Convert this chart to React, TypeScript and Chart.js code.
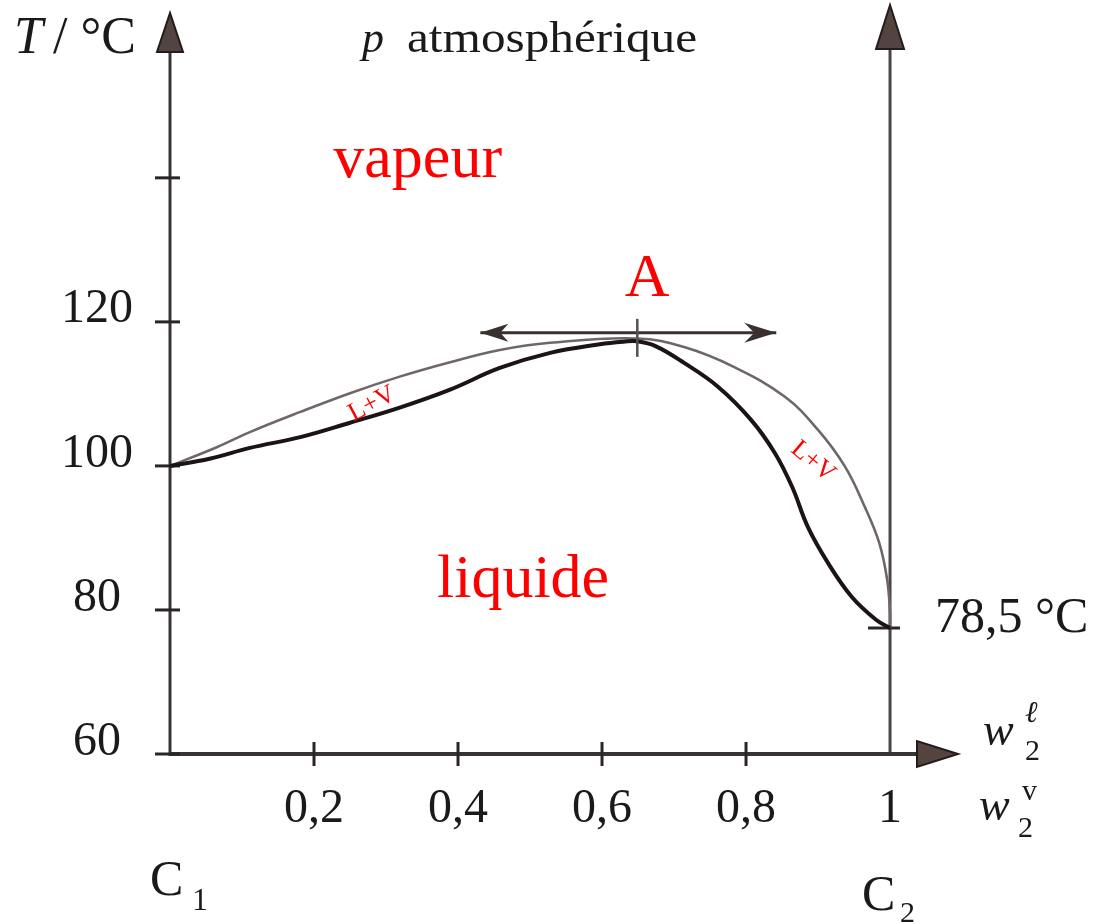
import React, { useEffect, useRef } from 'react';
import { Chart, registerables } from 'chart.js';

Chart.register(...registerables);

// ---------- data ----------
const xTicks = [0.2, 0.4, 0.6, 0.8, 1];
const xTickLabels = ['0,2', '0,4', '0,6', '0,8', '1'];
const yTicks = [60, 80, 100, 120, 140];
const yTickLabels = ['60', '80', '100', '120', ''];

// liquid (bubble) curve: mass fraction w2 (liquid) vs T (°C)
const liquidW = [0, 0.055, 0.111, 0.181, 0.25, 0.319, 0.389, 0.458, 0.528, 0.597, 0.63, 0.649, 0.675, 0.714, 0.761, 0.807, 0.84, 0.864, 0.886, 0.914, 0.947, 0.981, 1.0];
const liquidT = [100, 101.0, 102.5, 104.0, 106.0, 108.1, 110.6, 113.6, 115.7, 116.9, 117.25, 117.3, 116.6, 114.3, 111.0, 106.4, 101.8, 97.1, 91.5, 86.5, 81.8, 78.6, 77.5];

// vapour (dew) curve: mass fraction w2 (vapour) vs T (°C)
const vaporW = [0, 0.065, 0.111, 0.181, 0.25, 0.319, 0.389, 0.458, 0.528, 0.649, 0.714, 0.783, 0.854, 0.9, 0.9375, 0.965, 0.985, 0.996, 1.0, 1.0];
const vaporT = [100, 102.6, 104.7, 107.5, 110.1, 112.4, 114.4, 116.1, 117.1, 117.7, 116.5, 113.75, 109.6, 105.0, 99.9, 94.3, 89.3, 84.2, 79.6, 77.5];

// azeotrope A and tangent double arrow
const azeoW = 0.649;
const azeoT = 117.5;
const tangentW = [0.431, 0.842];
const tangentT = [118.5, 118.5];

// boiling point of pure C2 (drawn level) and label
const c2BoilT = 77.5;
const c2BoilLabel = '78,5 °C';

const X_MAX = 1.0944;
const Y_MIN = 60;
const Y_MAX = 164;

const SERIF = "'Liberation Serif', 'Times New Roman', serif";
const INK = '#1a1a1a';
const RED = '#ff0000';

function txt(ctx: CanvasRenderingContext2D, s: string, x: number, y: number, font: string, color: string, align: CanvasTextAlign = 'left', sx = 1, rot = 0, baseline: CanvasTextBaseline = 'alphabetic') {
  ctx.save();
  ctx.translate(x, y);
  if (rot) ctx.rotate(rot);
  ctx.scale(sx, 1);
  ctx.font = font;
  ctx.fillStyle = color;
  ctx.textAlign = align;
  ctx.textBaseline = baseline;
  ctx.fillText(s, 0, 0);
  ctx.restore();
}

function line(ctx: CanvasRenderingContext2D, x1: number, y1: number, x2: number, y2: number, color: string, w: number) {
  ctx.save();
  ctx.strokeStyle = color;
  ctx.lineWidth = w;
  ctx.beginPath();
  ctx.moveTo(x1, y1);
  ctx.lineTo(x2, y2);
  ctx.stroke();
  ctx.restore();
}

function tri(ctx: CanvasRenderingContext2D, pts: number[][]) {
  ctx.save();
  ctx.fillStyle = '#54443f';
  ctx.strokeStyle = '#231c1a';
  ctx.lineWidth = 2;
  ctx.lineJoin = 'miter';
  ctx.beginPath();
  ctx.moveTo(pts[0][0], pts[0][1]);
  for (let i = 1; i < pts.length; i++) ctx.lineTo(pts[i][0], pts[i][1]);
  ctx.closePath();
  ctx.fill();
  ctx.stroke();
  ctx.restore();
}

const axesPlugin = {
  id: 'axesPlugin',
  beforeDatasetsDraw(chart: any) {
    const ctx: CanvasRenderingContext2D = chart.ctx;
    const xs = chart.scales.x;
    const ys = chart.scales.y;
    const top = chart.chartArea.top;
    const right = chart.chartArea.right;
    const x0 = xs.getPixelForValue(0);
    const x1 = xs.getPixelForValue(1);
    const yb = ys.getPixelForValue(Y_MIN);

    // left (temperature) axis
    line(ctx, x0, yb + 2, x0, top + 44, '#383434', 3);
    tri(ctx, [[x0, top + 8], [x0 - 13, top + 47], [x0 + 13, top + 47]]);
    // right axis at w2 = 1
    line(ctx, x1, yb + 2, x1, top + 40, '#4a4646', 3);
    tri(ctx, [[x1, top], [x1 - 14, top + 44], [x1 + 14, top + 44]]);
    // horizontal axis
    line(ctx, x0 - 1, yb, right - 40, yb, '#383434', 4);
    tri(ctx, [[right, yb], [right - 41, yb - 13], [right - 41, yb + 13]]);

    // y ticks
    yTicks.forEach((v) => {
      const py = ys.getPixelForValue(v);
      line(ctx, x0 - 15, py, x0 + 10, py, '#2a2626', 3);
    });
    // x ticks
    xTicks.forEach((v) => {
      if (v >= 1) return;
      const px = xs.getPixelForValue(v);
      line(ctx, px, yb - 12, px, yb + 12, '#2a2626', 3);
    });
    // tick on right axis at boiling point of C2
    const pb = ys.getPixelForValue(c2BoilT);
    line(ctx, x1 - 22, pb, x1 + 10, pb, '#2a2626', 3);
  },
  afterDatasetsDraw(chart: any) {
    const ctx: CanvasRenderingContext2D = chart.ctx;
    const xs = chart.scales.x;
    const ys = chart.scales.y;

    // tick marking A
    const ax = xs.getPixelForValue(azeoW);
    const ay = ys.getPixelForValue(azeoT);
    line(ctx, ax, ay - 21, ax, ay + 17, '#555050', 2.5);

    // arrowheads of tangent
    const lx = xs.getPixelForValue(tangentW[0]);
    const ly = ys.getPixelForValue(tangentT[0]);
    const rx = xs.getPixelForValue(tangentW[1]);
    const ry = ys.getPixelForValue(tangentT[1]);
    ctx.save();
    ctx.fillStyle = '#3a3030';
    ctx.beginPath();
    ctx.moveTo(lx, ly);
    ctx.lineTo(lx + 28, ly - 9);
    ctx.lineTo(lx + 20, ly);
    ctx.lineTo(lx + 28, ly + 9);
    ctx.closePath();
    ctx.fill();
    ctx.beginPath();
    ctx.moveTo(rx, ry);
    ctx.lineTo(rx - 32, ry - 10);
    ctx.lineTo(rx - 22, ry);
    ctx.lineTo(rx - 32, ry + 10);
    ctx.closePath();
    ctx.fill();
    ctx.restore();
  },
  afterDraw(chart: any) {
    const ctx: CanvasRenderingContext2D = chart.ctx;
    const xs = chart.scales.x;
    const ys = chart.scales.y;
    const X = (v: number) => xs.getPixelForValue(v);
    const Y = (v: number) => ys.getPixelForValue(v);

    // red region labels
    txt(ctx, 'vapeur', X(0.344), Y(140.1), `62px ${SERIF}`, RED, 'center');
    txt(ctx, 'liquide', X(0.4903), Y(81.8), `62px ${SERIF}`, RED, 'center');
    txt(ctx, 'A', X(0.6625), Y(123.6), `62px ${SERIF}`, RED, 'center');
    txt(ctx, 'L+V', X(0.2806), Y(108.6), `26px ${SERIF}`, RED, 'center', 1, -28 * Math.PI / 180, 'middle');
    txt(ctx, 'L+V', X(0.893), Y(100.6), `26px ${SERIF}`, RED, 'center', 1, 40 * Math.PI / 180, 'middle');

    // axis titles / headings (black)
    txt(ctx, 'T', 14, 53, `italic 52px ${SERIF}`, INK, 'left');
    txt(ctx, '/ °C', 53, 53, `52px ${SERIF}`, INK, 'left');
    txt(ctx, 'p', 362, 52, `italic 44px ${SERIF}`, INK, 'left');
    txt(ctx, 'atmosphérique', 407, 52, `44px ${SERIF}`, INK, 'left', 1.12);

    txt(ctx, c2BoilLabel, 935, 632, `50px ${SERIF}`, INK, 'left');

    txt(ctx, 'w', 983, 745, `italic 46px ${SERIF}`, INK, 'left');
    txt(ctx, 'ℓ', 1025, 722, `italic 30px ${SERIF}`, INK, 'left');
    txt(ctx, '2', 1025, 760, `30px ${SERIF}`, INK, 'left');
    txt(ctx, 'w', 979, 820, `italic 46px ${SERIF}`, INK, 'left');
    txt(ctx, 'v', 1022, 800, `30px ${SERIF}`, INK, 'left');
    txt(ctx, '2', 1018, 837, `30px ${SERIF}`, INK, 'left');

    txt(ctx, 'C', 150, 895, `50px ${SERIF}`, INK, 'left');
    txt(ctx, '1', 192, 910, `32px ${SERIF}`, INK, 'left');
    txt(ctx, 'C', 862, 910, `50px ${SERIF}`, INK, 'left');
    txt(ctx, '2', 900, 922, `30px ${SERIF}`, INK, 'left');
  },
};

export default function App() {
  const ref = useRef<HTMLCanvasElement | null>(null);

  useEffect(() => {
    if (!ref.current) return;
    const chart = new Chart(ref.current, {
      type: 'scatter',
      data: {
        datasets: [
          {
            data: liquidW.map((w, i) => ({ x: w, y: liquidT[i] })),
            showLine: true,
            borderColor: '#1c1414',
            borderWidth: 4,
            pointRadius: 0,
            tension: 0.4,
            fill: false,
          },
          {
            data: vaporW.map((w, i) => ({ x: w, y: vaporT[i] })),
            showLine: true,
            borderColor: '#6f6767',
            borderWidth: 2.6,
            pointRadius: 0,
            tension: 0.4,
            fill: false,
          },
          {
            data: tangentW.map((w, i) => ({ x: w, y: tangentT[i] })),
            showLine: true,
            borderColor: '#3a3030',
            borderWidth: 3,
            pointRadius: 0,
            tension: 0,
            fill: false,
          },
        ],
      },
      options: {
        responsive: false,
        animation: false,
        devicePixelRatio: 1,
        layout: { padding: { left: 0, right: 136, top: 5, bottom: 0 } },
        plugins: { legend: { display: false }, tooltip: { enabled: false } },
        scales: {
          x: {
            type: 'linear',
            min: 0,
            max: X_MAX,
            grid: { display: false, drawTicks: false },
            border: { display: false },
            afterBuildTicks: (s: any) => {
              s.ticks = xTicks.map((v) => ({ value: v }));
            },
            afterFit: (s: any) => {
              s.height = 170;
              s.paddingLeft = 0;
              s.paddingRight = 0;
              s.paddingTop = 0;
              s.paddingBottom = 0;
            },
            ticks: {
              autoSkip: false,
              maxRotation: 0,
              padding: 27,
              color: INK,
              font: { family: SERIF, size: 48 },
              callback: (v: any) => {
                const i = xTicks.indexOf(Number(v));
                return i >= 0 ? xTickLabels[i] : '';
              },
            },
          },
          y: {
            type: 'linear',
            min: Y_MIN,
            max: Y_MAX,
            grid: { display: false, drawTicks: false },
            border: { display: false },
            afterBuildTicks: (s: any) => {
              s.ticks = yTicks.map((v) => ({ value: v }));
            },
            afterFit: (s: any) => {
              s.width = 170;
              s.paddingLeft = 0;
              s.paddingRight = 0;
              s.paddingTop = 0;
              s.paddingBottom = 0;
            },
            ticks: {
              autoSkip: false,
              padding: 37,
              crossAlign: 'center',
              labelOffset: -12,
              color: INK,
              font: { family: SERIF, size: 48 },
              callback: (v: any) => {
                const i = yTicks.indexOf(Number(v));
                return i >= 0 ? yTickLabels[i] : '';
              },
            },
          },
        },
      },
      plugins: [axesPlugin],
    } as any);
    return () => chart.destroy();
  }, []);

  return (
    <div style={{ position: 'fixed', left: 0, top: 0, width: 1094, height: 924, background: '#ffffff' }}>
      <canvas ref={ref} width={1094} height={924} style={{ display: 'block' }} />
    </div>
  );
}
